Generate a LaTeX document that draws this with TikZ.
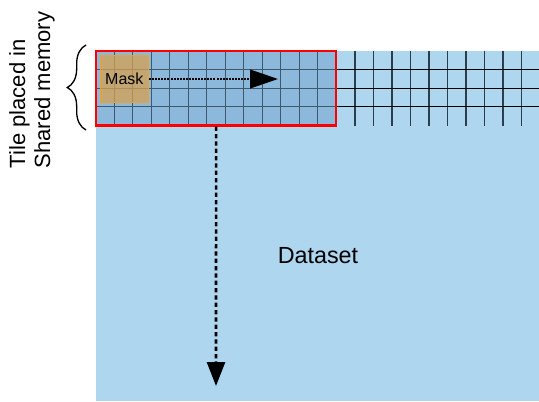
\documentclass[tikz,border=0pt]{standalone}
\usepackage{fontspec}
\setmainfont{Liberation Sans}
\usepackage{xcolor}
\usetikzlibrary{arrows.meta,decorations.pathreplacing}

\definecolor{datablue}{RGB}{174,214,238}
\definecolor{tileblue}{RGB}{140,184,219}
\definecolor{cellline}{RGB}{62,88,108}
\definecolor{maskfill}{RGB}{214,160,78}
\definecolor{maskedge}{RGB}{242,160,40}

\begin{document}
\begin{tikzpicture}[x=0.75pt,y=-0.75pt,
  tile/.style={draw=red,line width=1.8pt,minimum width=180.2pt,
               minimum height=55.9pt,inner sep=0pt},
  cell/.style={draw=cellline,line width=0.7pt},
  outcol/.style={draw=cellline!70!black,line width=1.1pt},
  outrow/.style={draw=black,line width=0.7pt},
  mask/.style={fill=maskfill,fill opacity=0.75,text opacity=1,draw=maskedge,
               line width=0.6pt,minimum width=36.5pt,minimum height=35.5pt,
               inner sep=0pt,font=\fontsize{12}{14}\selectfont},
  slide/.style={line width=1.5pt,dash pattern=on 1.5pt off 0.8pt,
                -{Triangle[length=21pt,width=14pt]}},
  sweep/.style={line width=2pt,dash pattern=on 3.2pt off 2.3pt,
                -{Triangle[length=18pt,width=13.5pt]}},
  label/.style={inner sep=0pt,font=\fontsize{16.5}{18.75}\selectfont}
]
\useasboundingbox (0,0) rectangle (539,401);

% whole dataset
\fill[datablue] (96,51) rectangle (539,401);

% tile held in shared memory
\fill[tileblue] (96,51) rectangle (336.3,125.5);
\foreach \i in {1,...,12}
  \draw[cell] (96+18.48*\i,51) -- ++(0,74.5);
\foreach \j in {1,2,3}
  \draw[cell] (96,51+18.6*\j) -- (336.3,51+18.6*\j);

% rest of the row of tiles
\foreach \i in {1,...,10}
  \draw[outcol] (336.3+18.5*\i,51) -- ++(0,75);
\foreach \j in {1,2,3}
  \draw[outrow] (336.3,51+18.6*\j) -- (539,51+18.6*\j);

\node[mask] (mask) at (124.3,78.6) {Mask};
\node[tile] (tile) at (216.15,88.25) {};

\coordinate (rowend) at (278,79);
\coordinate (colend) at (216,386);
\draw[slide] (mask.east |- rowend) -- (rowend);
\draw[sweep] (tile.south) -- (colend);

\node[label,font=\fontsize{17.5}{20}\selectfont] (data) at (318,256) {Dataset};

% brace and side label
\draw[decorate,decoration={brace,amplitude=14pt},line width=1pt]
  (86,130) -- (86,45);
\node[label,rotate=90,align=left] (tilelabel) at (32,90)
  {Tile placed in\\Shared memory};
\end{tikzpicture}
\end{document}
